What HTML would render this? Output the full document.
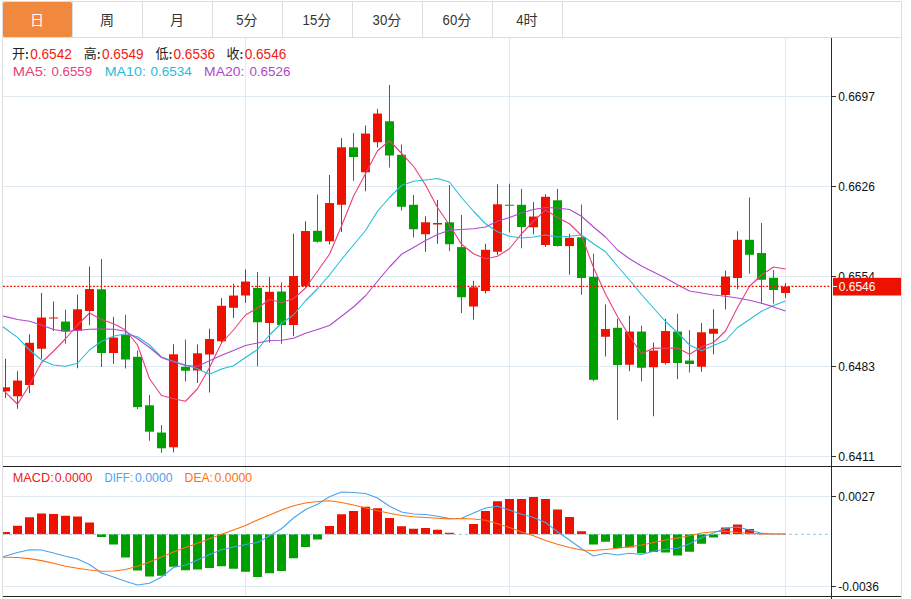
<!DOCTYPE html>
<html><head><meta charset="utf-8"><title>K</title>
<style>html,body{margin:0;padding:0;background:#fff;width:911px;height:599px;overflow:hidden}body{position:relative;font-family:"Liberation Sans",sans-serif}</style>
</head><body>
<svg width="911" height="599" viewBox="0 0 911 599" style="position:absolute;left:0;top:0;display:block">
<rect x="0" y="0" width="911" height="599" fill="#fff"/>
<g shape-rendering="crispEdges">
<rect x="2" y="1" width="900" height="1" fill="#dddddd"/>
<rect x="2" y="1" width="1" height="598" fill="#dddddd"/>
<rect x="901" y="1" width="1" height="598" fill="#dddddd"/>
<rect x="2" y="37" width="900" height="1" fill="#dddddd"/>
</g><rect x="3" y="2" width="69" height="35" rx="1.5" fill="#f0883e"/><g shape-rendering="crispEdges">
<rect x="72" y="2" width="1" height="35" fill="#dddddd"/>
<rect x="142" y="2" width="1" height="35" fill="#dddddd"/>
<rect x="212" y="2" width="1" height="35" fill="#dddddd"/>
<rect x="282" y="2" width="1" height="35" fill="#dddddd"/>
<rect x="352" y="2" width="1" height="35" fill="#dddddd"/>
<rect x="422" y="2" width="1" height="35" fill="#dddddd"/>
<rect x="492" y="2" width="1" height="35" fill="#dddddd"/>
<rect x="562" y="2" width="1" height="35" fill="#dddddd"/>
<rect x="3" y="96" width="828" height="1" fill="#dfe9f1"/>
<rect x="3" y="186" width="828" height="1" fill="#dfe9f1"/>
<rect x="3" y="276" width="828" height="1" fill="#dfe9f1"/>
<rect x="3" y="366" width="828" height="1" fill="#dfe9f1"/>
<rect x="3" y="456" width="828" height="1" fill="#dfe9f1"/>
<rect x="3" y="496" width="828" height="1" fill="#dfe9f1"/>
<rect x="3" y="586" width="828" height="1" fill="#dfe9f1"/>
<rect x="245" y="38" width="1" height="559" fill="#dfe9f1"/>
<rect x="509" y="38" width="1" height="559" fill="#dfe9f1"/>
<rect x="785" y="38" width="1" height="559" fill="#dfe9f1"/>
</g>
<g>
<rect x="5" y="358.75" width="1" height="39.25" fill="#ee1100"/>
<rect x="3" y="387.30" width="7" height="3.95" fill="#ee1100"/>
<rect x="17" y="371.25" width="1" height="37.50" fill="#ee1100"/>
<rect x="13" y="380.55" width="9" height="15.70" fill="#ee1100"/>
<rect x="29" y="334.25" width="1" height="58.75" fill="#ee1100"/>
<rect x="25" y="342.80" width="9" height="42.20" fill="#ee1100"/>
<rect x="41" y="293.00" width="1" height="65.75" fill="#ee1100"/>
<rect x="37" y="317.55" width="9" height="31.20" fill="#ee1100"/>
<rect x="53" y="301.50" width="1" height="29.50" fill="#ee1100"/>
<rect x="49" y="317.50" width="9" height="1.00" fill="#ee1100"/>
<rect x="65" y="309.75" width="1" height="34.00" fill="#00a000"/>
<rect x="61" y="321.55" width="9" height="9.95" fill="#00a000"/>
<rect x="77" y="294.50" width="1" height="73.75" fill="#ee1100"/>
<rect x="73" y="309.30" width="9" height="21.20" fill="#ee1100"/>
<rect x="89" y="266.50" width="1" height="58.50" fill="#ee1100"/>
<rect x="85" y="289.05" width="9" height="21.95" fill="#ee1100"/>
<rect x="101" y="259.00" width="1" height="108.00" fill="#00a000"/>
<rect x="97" y="289.30" width="9" height="63.70" fill="#00a000"/>
<rect x="113" y="316.75" width="1" height="47.00" fill="#ee1100"/>
<rect x="109" y="337.55" width="9" height="15.45" fill="#ee1100"/>
<rect x="125" y="314.75" width="1" height="53.75" fill="#00a000"/>
<rect x="121" y="335.05" width="9" height="24.45" fill="#00a000"/>
<rect x="137" y="350.50" width="1" height="58.50" fill="#00a000"/>
<rect x="133" y="356.80" width="9" height="50.30" fill="#00a000"/>
<rect x="149" y="395.00" width="1" height="45.75" fill="#00a000"/>
<rect x="145" y="405.30" width="9" height="26.40" fill="#00a000"/>
<rect x="161" y="425.00" width="1" height="27.80" fill="#00a000"/>
<rect x="157" y="432.55" width="9" height="15.75" fill="#00a000"/>
<rect x="173" y="344.25" width="1" height="108.05" fill="#ee1100"/>
<rect x="169" y="354.30" width="9" height="93.00" fill="#ee1100"/>
<rect x="185" y="339.50" width="1" height="42.00" fill="#00a000"/>
<rect x="181" y="366.80" width="9" height="3.95" fill="#00a000"/>
<rect x="197" y="344.50" width="1" height="38.50" fill="#ee1100"/>
<rect x="193" y="353.30" width="9" height="17.20" fill="#ee1100"/>
<rect x="209" y="328.75" width="1" height="63.75" fill="#ee1100"/>
<rect x="205" y="339.05" width="9" height="15.45" fill="#ee1100"/>
<rect x="221" y="298.00" width="1" height="45.00" fill="#ee1100"/>
<rect x="217" y="305.80" width="9" height="35.45" fill="#ee1100"/>
<rect x="233" y="283.75" width="1" height="34.25" fill="#ee1100"/>
<rect x="229" y="295.55" width="9" height="12.20" fill="#ee1100"/>
<rect x="245" y="269.50" width="1" height="33.50" fill="#ee1100"/>
<rect x="241" y="281.55" width="9" height="13.95" fill="#ee1100"/>
<rect x="257" y="272.00" width="1" height="94.25" fill="#00a000"/>
<rect x="253" y="287.80" width="9" height="34.45" fill="#00a000"/>
<rect x="269" y="276.75" width="1" height="65.75" fill="#ee1100"/>
<rect x="265" y="291.80" width="9" height="31.20" fill="#ee1100"/>
<rect x="281" y="282.50" width="1" height="61.25" fill="#00a000"/>
<rect x="277" y="291.55" width="9" height="33.45" fill="#00a000"/>
<rect x="293" y="233.75" width="1" height="102.50" fill="#ee1100"/>
<rect x="289" y="276.05" width="9" height="48.95" fill="#ee1100"/>
<rect x="305" y="221.25" width="1" height="66.75" fill="#ee1100"/>
<rect x="301" y="231.05" width="9" height="55.20" fill="#ee1100"/>
<rect x="317" y="194.50" width="1" height="48.00" fill="#00a000"/>
<rect x="313" y="230.80" width="9" height="10.95" fill="#00a000"/>
<rect x="329" y="175.00" width="1" height="69.50" fill="#ee1100"/>
<rect x="325" y="203.05" width="9" height="38.20" fill="#ee1100"/>
<rect x="341" y="138.00" width="1" height="94.00" fill="#ee1100"/>
<rect x="337" y="147.30" width="9" height="57.45" fill="#ee1100"/>
<rect x="353" y="133.00" width="1" height="47.75" fill="#00a000"/>
<rect x="349" y="147.30" width="9" height="9.70" fill="#00a000"/>
<rect x="365" y="125.50" width="1" height="65.75" fill="#ee1100"/>
<rect x="361" y="133.55" width="9" height="38.70" fill="#ee1100"/>
<rect x="377" y="108.75" width="1" height="38.75" fill="#ee1100"/>
<rect x="373" y="113.55" width="9" height="28.70" fill="#ee1100"/>
<rect x="389" y="85.00" width="1" height="82.50" fill="#00a000"/>
<rect x="385" y="121.30" width="9" height="34.20" fill="#00a000"/>
<rect x="401" y="144.50" width="1" height="66.00" fill="#00a000"/>
<rect x="397" y="154.80" width="9" height="51.95" fill="#00a000"/>
<rect x="413" y="195.00" width="1" height="42.50" fill="#00a000"/>
<rect x="409" y="204.80" width="9" height="24.45" fill="#00a000"/>
<rect x="425" y="216.25" width="1" height="35.50" fill="#ee1100"/>
<rect x="421" y="222.30" width="9" height="11.95" fill="#ee1100"/>
<rect x="437" y="200.00" width="1" height="43.75" fill="#ee1100"/>
<rect x="433" y="223.00" width="9" height="1.50" fill="#ee1100"/>
<rect x="449" y="185.00" width="1" height="66.25" fill="#00a000"/>
<rect x="445" y="222.30" width="9" height="21.95" fill="#00a000"/>
<rect x="461" y="215.00" width="1" height="98.00" fill="#00a000"/>
<rect x="457" y="247.10" width="9" height="50.15" fill="#00a000"/>
<rect x="473" y="280.75" width="1" height="38.75" fill="#ee1100"/>
<rect x="469" y="287.30" width="9" height="19.20" fill="#ee1100"/>
<rect x="485" y="243.75" width="1" height="49.75" fill="#ee1100"/>
<rect x="481" y="249.80" width="9" height="41.20" fill="#ee1100"/>
<rect x="497" y="184.25" width="1" height="70.75" fill="#ee1100"/>
<rect x="493" y="204.30" width="9" height="47.45" fill="#ee1100"/>
<rect x="509" y="183.75" width="1" height="48.75" fill="#00a000"/>
<rect x="505" y="204.75" width="9" height="1.00" fill="#00a000"/>
<rect x="521" y="188.75" width="1" height="59.50" fill="#00a000"/>
<rect x="517" y="204.80" width="9" height="22.20" fill="#00a000"/>
<rect x="533" y="202.00" width="1" height="32.25" fill="#ee1100"/>
<rect x="529" y="216.55" width="9" height="10.70" fill="#ee1100"/>
<rect x="545" y="194.25" width="1" height="52.75" fill="#ee1100"/>
<rect x="541" y="196.80" width="9" height="48.20" fill="#ee1100"/>
<rect x="557" y="188.75" width="1" height="57.75" fill="#00a000"/>
<rect x="553" y="200.30" width="9" height="45.70" fill="#00a000"/>
<rect x="569" y="233.75" width="1" height="40.95" fill="#ee1100"/>
<rect x="565" y="237.80" width="9" height="8.30" fill="#ee1100"/>
<rect x="581" y="204.50" width="1" height="90.25" fill="#00a000"/>
<rect x="577" y="237.30" width="9" height="40.70" fill="#00a000"/>
<rect x="593" y="253.75" width="1" height="127.50" fill="#00a000"/>
<rect x="589" y="276.80" width="9" height="102.95" fill="#00a000"/>
<rect x="605" y="304.50" width="1" height="52.00" fill="#ee1100"/>
<rect x="601" y="329.05" width="9" height="7.70" fill="#ee1100"/>
<rect x="617" y="318.75" width="1" height="101.25" fill="#00a000"/>
<rect x="613" y="327.80" width="9" height="37.20" fill="#00a000"/>
<rect x="629" y="315.75" width="1" height="55.50" fill="#ee1100"/>
<rect x="625" y="331.55" width="9" height="33.20" fill="#ee1100"/>
<rect x="641" y="325.75" width="1" height="55.75" fill="#00a000"/>
<rect x="637" y="331.55" width="9" height="36.20" fill="#00a000"/>
<rect x="653" y="342.50" width="1" height="73.75" fill="#ee1100"/>
<rect x="649" y="350.55" width="9" height="16.70" fill="#ee1100"/>
<rect x="665" y="318.75" width="1" height="45.75" fill="#ee1100"/>
<rect x="661" y="331.05" width="9" height="31.95" fill="#ee1100"/>
<rect x="677" y="313.75" width="1" height="65.50" fill="#00a000"/>
<rect x="673" y="331.55" width="9" height="31.45" fill="#00a000"/>
<rect x="689" y="330.00" width="1" height="42.50" fill="#00a000"/>
<rect x="685" y="360.55" width="9" height="3.45" fill="#00a000"/>
<rect x="701" y="323.00" width="1" height="48.75" fill="#ee1100"/>
<rect x="697" y="332.30" width="9" height="34.45" fill="#ee1100"/>
<rect x="713" y="309.25" width="1" height="45.00" fill="#ee1100"/>
<rect x="709" y="328.80" width="9" height="4.95" fill="#ee1100"/>
<rect x="725" y="270.50" width="1" height="39.00" fill="#ee1100"/>
<rect x="721" y="276.55" width="9" height="18.45" fill="#ee1100"/>
<rect x="737" y="231.25" width="1" height="58.00" fill="#ee1100"/>
<rect x="733" y="239.80" width="9" height="38.20" fill="#ee1100"/>
<rect x="749" y="197.50" width="1" height="76.25" fill="#00a000"/>
<rect x="745" y="239.80" width="9" height="14.95" fill="#00a000"/>
<rect x="761" y="223.00" width="1" height="80.75" fill="#00a000"/>
<rect x="757" y="253.05" width="9" height="26.70" fill="#00a000"/>
<rect x="773" y="270.00" width="1" height="33.50" fill="#00a000"/>
<rect x="769" y="277.80" width="9" height="12.20" fill="#00a000"/>
<rect x="785" y="283.00" width="1" height="14.75" fill="#ee1100"/>
<rect x="781" y="286.55" width="9" height="6.45" fill="#ee1100"/>
</g>
<g>
<rect x="3" y="532.00" width="7" height="2.20" fill="#ee1100"/>
<rect x="13" y="525.75" width="9" height="8.45" fill="#ee1100"/>
<rect x="25" y="517.25" width="9" height="16.95" fill="#ee1100"/>
<rect x="37" y="513.50" width="9" height="20.70" fill="#ee1100"/>
<rect x="49" y="514.00" width="9" height="20.20" fill="#ee1100"/>
<rect x="61" y="515.75" width="9" height="18.45" fill="#ee1100"/>
<rect x="73" y="516.50" width="9" height="17.70" fill="#ee1100"/>
<rect x="85" y="522.50" width="9" height="11.70" fill="#ee1100"/>
<rect x="97" y="534.20" width="9" height="2.80" fill="#00a000"/>
<rect x="109" y="534.20" width="9" height="10.30" fill="#00a000"/>
<rect x="121" y="534.20" width="9" height="23.30" fill="#00a000"/>
<rect x="133" y="534.20" width="9" height="36.30" fill="#00a000"/>
<rect x="145" y="534.20" width="9" height="42.30" fill="#00a000"/>
<rect x="157" y="534.20" width="9" height="41.55" fill="#00a000"/>
<rect x="169" y="534.20" width="9" height="32.55" fill="#00a000"/>
<rect x="181" y="534.20" width="9" height="36.05" fill="#00a000"/>
<rect x="193" y="534.20" width="9" height="35.30" fill="#00a000"/>
<rect x="205" y="534.20" width="9" height="33.80" fill="#00a000"/>
<rect x="217" y="534.20" width="9" height="32.05" fill="#00a000"/>
<rect x="229" y="534.20" width="9" height="34.55" fill="#00a000"/>
<rect x="241" y="534.20" width="9" height="37.55" fill="#00a000"/>
<rect x="253" y="534.20" width="9" height="42.80" fill="#00a000"/>
<rect x="265" y="534.20" width="9" height="39.05" fill="#00a000"/>
<rect x="277" y="534.20" width="9" height="36.80" fill="#00a000"/>
<rect x="289" y="534.20" width="9" height="24.05" fill="#00a000"/>
<rect x="301" y="534.20" width="9" height="12.80" fill="#00a000"/>
<rect x="313" y="534.20" width="9" height="5.30" fill="#00a000"/>
<rect x="325" y="526.00" width="9" height="8.20" fill="#ee1100"/>
<rect x="337" y="514.25" width="9" height="19.95" fill="#ee1100"/>
<rect x="349" y="511.00" width="9" height="23.20" fill="#ee1100"/>
<rect x="361" y="506.75" width="9" height="27.45" fill="#ee1100"/>
<rect x="373" y="508.25" width="9" height="25.95" fill="#ee1100"/>
<rect x="385" y="518.00" width="9" height="16.20" fill="#ee1100"/>
<rect x="397" y="526.25" width="9" height="7.95" fill="#ee1100"/>
<rect x="409" y="528.75" width="9" height="5.45" fill="#ee1100"/>
<rect x="421" y="528.00" width="9" height="6.20" fill="#ee1100"/>
<rect x="433" y="529.75" width="9" height="4.45" fill="#ee1100"/>
<rect x="445" y="532.75" width="9" height="1.45" fill="#ee1100"/>
<rect x="469" y="524.00" width="9" height="10.20" fill="#ee1100"/>
<rect x="481" y="511.00" width="9" height="23.20" fill="#ee1100"/>
<rect x="493" y="501.25" width="9" height="32.95" fill="#ee1100"/>
<rect x="505" y="499.00" width="9" height="35.20" fill="#ee1100"/>
<rect x="517" y="499.00" width="9" height="35.20" fill="#ee1100"/>
<rect x="529" y="497.00" width="9" height="37.20" fill="#ee1100"/>
<rect x="541" y="499.00" width="9" height="35.20" fill="#ee1100"/>
<rect x="553" y="509.50" width="9" height="24.70" fill="#ee1100"/>
<rect x="565" y="517.00" width="9" height="17.20" fill="#ee1100"/>
<rect x="577" y="531.25" width="9" height="2.95" fill="#ee1100"/>
<rect x="589" y="534.20" width="9" height="10.30" fill="#00a000"/>
<rect x="601" y="534.20" width="9" height="7.55" fill="#00a000"/>
<rect x="613" y="534.20" width="9" height="13.80" fill="#00a000"/>
<rect x="625" y="534.20" width="9" height="13.30" fill="#00a000"/>
<rect x="637" y="534.20" width="9" height="19.05" fill="#00a000"/>
<rect x="649" y="534.20" width="9" height="17.80" fill="#00a000"/>
<rect x="661" y="534.20" width="9" height="18.30" fill="#00a000"/>
<rect x="673" y="534.20" width="9" height="21.30" fill="#00a000"/>
<rect x="685" y="534.20" width="9" height="17.55" fill="#00a000"/>
<rect x="697" y="534.20" width="9" height="9.55" fill="#00a000"/>
<rect x="709" y="534.20" width="9" height="3.30" fill="#00a000"/>
<rect x="721" y="527.50" width="9" height="6.70" fill="#ee1100"/>
<rect x="733" y="524.50" width="9" height="9.70" fill="#ee1100"/>
<rect x="745" y="529.00" width="9" height="5.20" fill="#ee1100"/>
<rect x="757" y="533.25" width="9" height="0.95" fill="#ee1100"/>
</g>
<line x1="3" y1="534.3" x2="828" y2="534.3" stroke="#84ccf2" stroke-width="1" stroke-dasharray="3 3"/>
<polyline points="3,391.00 5.5,392.30 17.5,404.25 29.5,385.00 41.5,362.50 53.5,351.25 65.5,338.75 77.5,325.00 89.5,313.00 101.5,319.50 113.5,323.75 125.5,330.00 137.5,345.00 149.5,378.75 161.5,395.50 173.5,398.75 185.5,401.25 197.5,388.75 209.5,367.50 221.5,343.00 233.5,330.00 245.5,315.00 257.5,308.00 269.5,299.50 281.5,302.50 293.5,298.75 305.5,288.00 317.5,271.25 329.5,254.25 341.5,226.00 353.5,196.25 365.5,173.75 377.5,150.75 389.5,140.75 401.5,153.25 413.5,166.25 425.5,185.00 437.5,207.50 449.5,225.00 461.5,244.30 473.5,253.75 485.5,258.75 497.5,256.25 509.5,248.75 521.5,233.75 533.5,221.25 545.5,210.00 557.5,217.50 569.5,223.75 581.5,235.50 593.5,267.50 605.5,294.00 617.5,316.50 629.5,336.25 641.5,353.75 653.5,348.00 665.5,348.30 677.5,348.00 689.5,354.25 701.5,347.00 713.5,342.50 725.5,331.00 737.5,307.50 749.5,286.25 761.5,275.00 773.5,267.00 785.5,269.00" fill="none" stroke="#e8407a" stroke-width="1.1" stroke-linejoin="round"/>
<polyline points="3,326.75 5.5,328.70 17.5,337.40 29.5,350.00 41.5,360.00 53.5,365.00 65.5,366.25 77.5,363.25 89.5,350.00 101.5,341.25 113.5,336.25 125.5,333.75 137.5,336.75 149.5,345.00 161.5,357.00 173.5,361.25 185.5,365.00 197.5,368.75 209.5,374.25 221.5,369.00 233.5,365.75 245.5,357.50 257.5,349.50 269.5,335.00 281.5,323.25 293.5,315.00 305.5,300.75 317.5,288.75 329.5,275.00 341.5,259.50 353.5,245.00 365.5,230.50 377.5,211.25 389.5,197.50 401.5,185.50 413.5,181.25 425.5,180.00 437.5,178.50 449.5,182.00 461.5,197.50 473.5,211.25 485.5,223.75 497.5,231.75 509.5,236.25 521.5,238.00 533.5,237.00 545.5,235.00 557.5,237.00 569.5,236.25 581.5,235.00 593.5,243.75 605.5,251.75 617.5,266.25 629.5,280.00 641.5,294.50 653.5,308.00 665.5,321.50 677.5,332.50 689.5,345.00 701.5,350.75 713.5,345.50 725.5,340.50 737.5,327.50 749.5,319.50 761.5,311.25 773.5,305.50 785.5,301.00" fill="none" stroke="#28bcd8" stroke-width="1.1" stroke-linejoin="round"/>
<polyline points="3,316.00 5.5,316.60 17.5,319.50 29.5,321.25 41.5,325.00 53.5,329.50 65.5,331.25 77.5,330.50 89.5,329.25 101.5,329.00 113.5,329.25 125.5,331.25 137.5,338.75 149.5,347.50 161.5,357.50 173.5,362.00 185.5,365.50 197.5,366.25 209.5,360.75 221.5,355.25 233.5,350.50 245.5,345.50 257.5,343.00 269.5,340.50 281.5,340.25 293.5,338.25 305.5,333.25 317.5,329.50 329.5,325.50 341.5,316.25 353.5,307.00 365.5,295.75 377.5,281.25 389.5,267.00 401.5,254.25 413.5,247.50 425.5,240.50 437.5,234.50 449.5,230.30 461.5,229.50 473.5,228.75 485.5,227.00 497.5,221.25 509.5,217.50 521.5,213.00 533.5,209.50 545.5,207.50 557.5,208.00 569.5,209.50 581.5,216.25 593.5,227.00 605.5,237.00 617.5,250.00 629.5,258.75 641.5,266.00 653.5,272.00 665.5,278.00 677.5,284.75 689.5,291.00 701.5,293.00 713.5,295.00 725.5,296.25 737.5,298.00 749.5,300.25 761.5,303.25 773.5,306.90 785.5,310.90" fill="none" stroke="#b048cc" stroke-width="1.1" stroke-linejoin="round"/>
<polyline points="3,556.80 5.5,556.00 17.5,552.50 29.5,549.80 41.5,550.00 53.5,553.00 65.5,556.25 77.5,559.00 89.5,564.50 101.5,573.00 113.5,577.00 125.5,581.25 137.5,585.00 149.5,583.25 161.5,577.00 173.5,567.50 185.5,565.00 197.5,560.00 209.5,554.50 221.5,549.75 233.5,547.00 245.5,544.50 257.5,542.50 269.5,535.75 281.5,528.75 293.5,518.00 305.5,509.50 317.5,504.25 329.5,496.75 341.5,492.00 353.5,492.50 365.5,493.50 377.5,498.00 389.5,506.25 401.5,512.00 413.5,514.00 425.5,514.50 437.5,516.25 449.5,518.50 461.5,518.25 473.5,513.00 485.5,508.00 497.5,506.25 509.5,510.00 521.5,514.25 533.5,517.50 545.5,522.50 557.5,531.75 569.5,540.00 581.5,548.75 593.5,556.00 605.5,553.25 617.5,555.00 629.5,553.25 641.5,554.50 653.5,551.25 665.5,549.25 677.5,548.25 689.5,543.75 701.5,537.50 713.5,533.00 725.5,528.25 737.5,527.00 749.5,530.00 761.5,533.25 773.5,534.00 785.5,534.00" fill="none" stroke="#4aa3ee" stroke-width="1.1" stroke-linejoin="round"/>
<polyline points="3,557.20 5.5,557.20 17.5,557.50 29.5,558.60 41.5,560.60 53.5,563.20 65.5,566.25 77.5,568.25 89.5,570.00 101.5,571.25 113.5,571.00 125.5,569.50 137.5,566.25 149.5,562.00 161.5,557.00 173.5,552.00 185.5,547.50 197.5,543.25 209.5,538.75 221.5,534.25 233.5,530.00 245.5,525.50 257.5,520.00 269.5,515.00 281.5,510.00 293.5,505.75 305.5,503.00 317.5,501.50 329.5,500.75 341.5,502.50 353.5,505.00 365.5,508.00 377.5,510.75 389.5,513.25 401.5,515.50 413.5,516.75 425.5,517.50 437.5,518.25 449.5,518.90 461.5,518.50 473.5,519.00 485.5,520.25 497.5,523.75 509.5,527.50 521.5,532.00 533.5,535.75 545.5,540.50 557.5,544.25 569.5,547.50 581.5,550.00 593.5,550.50 605.5,549.50 617.5,548.25 629.5,546.75 641.5,545.00 653.5,542.50 665.5,540.00 677.5,538.00 689.5,535.75 701.5,533.00 713.5,531.75 725.5,531.25 737.5,532.50 749.5,533.25 761.5,534.00 773.5,534.00 785.5,534.00" fill="none" stroke="#ff7010" stroke-width="1.1" stroke-linejoin="round"/>
<line x1="3" y1="286.4" x2="829.4" y2="286.4" stroke="#ee1100" stroke-width="1.1" stroke-dasharray="1.9 1.7"/>
<g shape-rendering="crispEdges">
<rect x="831" y="38" width="1" height="561" fill="#2a2a2a"/>
<rect x="3" y="466" width="898" height="1" fill="#222"/>
<rect x="3" y="596" width="898" height="1" fill="#222"/>
<rect x="832" y="96" width="4" height="1" fill="#333"/>
<rect x="832" y="186" width="4" height="1" fill="#333"/>
<rect x="832" y="276" width="4" height="1" fill="#333"/>
<rect x="832" y="366" width="4" height="1" fill="#333"/>
<rect x="832" y="456" width="4" height="1" fill="#333"/>
<rect x="832" y="496" width="4" height="1" fill="#333"/>
<rect x="832" y="586" width="4" height="1" fill="#333"/>
</g>
<g font-family='"Liberation Sans", "Noto Sans CJK SC", sans-serif'>
<text x="838.20" y="100.60" font-size="12.4" fill="#111" textLength="36.60" lengthAdjust="spacingAndGlyphs">0.6697</text>
<text x="838.20" y="190.60" font-size="12.4" fill="#111" textLength="36.60" lengthAdjust="spacingAndGlyphs">0.6626</text>
<text x="838.20" y="280.60" font-size="12.4" fill="#111" textLength="36.60" lengthAdjust="spacingAndGlyphs">0.6554</text>
<text x="838.20" y="370.60" font-size="12.4" fill="#111" textLength="36.60" lengthAdjust="spacingAndGlyphs">0.6483</text>
<text x="838.20" y="460.60" font-size="12.4" fill="#111" textLength="36.60" lengthAdjust="spacingAndGlyphs">0.6411</text>
<text x="838.20" y="500.60" font-size="12.4" fill="#111" textLength="36.60" lengthAdjust="spacingAndGlyphs">0.0027</text>
<text x="838.20" y="590.60" font-size="12.4" fill="#111" textLength="40.80" lengthAdjust="spacingAndGlyphs">-0.0036</text>
<rect x="833" y="277.8" width="68" height="17.7" fill="#ee1100"/>
<rect x="833" y="286" width="4" height="1" fill="#fff" shape-rendering="crispEdges"/>
<text x="838.70" y="290.80" font-size="12" fill="#fff" textLength="36.80" lengthAdjust="spacingAndGlyphs">0.6546</text>
<text x="29.90" y="24.70" font-size="14" fill="#fff">日</text>
<text x="99.90" y="24.70" font-size="14" fill="#333">周</text>
<text x="169.90" y="24.70" font-size="14" fill="#333">月</text>
<text x="236.25" y="25.40" font-size="14" fill="#333" textLength="7.30" lengthAdjust="spacingAndGlyphs">5</text><text x="243.55" y="24.70" font-size="14" fill="#333">分</text>
<text x="302.60" y="25.40" font-size="14" fill="#333" textLength="14.60" lengthAdjust="spacingAndGlyphs">15</text><text x="317.20" y="24.70" font-size="14" fill="#333">分</text>
<text x="372.60" y="25.40" font-size="14" fill="#333" textLength="14.60" lengthAdjust="spacingAndGlyphs">30</text><text x="387.20" y="24.70" font-size="14" fill="#333">分</text>
<text x="442.60" y="25.40" font-size="14" fill="#333" textLength="14.60" lengthAdjust="spacingAndGlyphs">60</text><text x="457.20" y="24.70" font-size="14" fill="#333">分</text>
<text x="516.25" y="25.40" font-size="14" fill="#333" textLength="7.30" lengthAdjust="spacingAndGlyphs">4</text><text x="523.55" y="24.70" font-size="14" fill="#333">时</text>
<text x="11.90" y="58.40" font-size="13" fill="#222">开</text>
<rect x="26.10" y="52.2" width="1.7" height="1.8" fill="#222"/><rect x="26.10" y="56.9" width="1.7" height="1.8" fill="#222"/>
<text x="30.20" y="58.50" font-size="13.9" fill="#f02010" textLength="41.60" lengthAdjust="spacingAndGlyphs">0.6542</text>
<text x="83.70" y="58.40" font-size="13" fill="#222">高</text>
<rect x="97.90" y="52.2" width="1.7" height="1.8" fill="#222"/><rect x="97.90" y="56.9" width="1.7" height="1.8" fill="#222"/>
<text x="102.00" y="58.50" font-size="13.9" fill="#f02010" textLength="41.60" lengthAdjust="spacingAndGlyphs">0.6549</text>
<text x="155.50" y="58.40" font-size="13" fill="#222">低</text>
<rect x="169.70" y="52.2" width="1.7" height="1.8" fill="#222"/><rect x="169.70" y="56.9" width="1.7" height="1.8" fill="#222"/>
<text x="173.50" y="58.50" font-size="13.9" fill="#f02010" textLength="41.60" lengthAdjust="spacingAndGlyphs">0.6536</text>
<text x="226.40" y="58.40" font-size="13" fill="#222">收</text>
<rect x="240.60" y="52.2" width="1.7" height="1.8" fill="#222"/><rect x="240.60" y="56.9" width="1.7" height="1.8" fill="#222"/>
<text x="244.70" y="58.50" font-size="13.9" fill="#f02010" textLength="41.60" lengthAdjust="spacingAndGlyphs">0.6546</text>
<text x="12.70" y="76.20" font-size="12.8" fill="#e8407a" textLength="34.20" lengthAdjust="spacingAndGlyphs">MA5:</text>
<text x="51.50" y="76.20" font-size="12.8" fill="#e8407a" textLength="40.60" lengthAdjust="spacingAndGlyphs">0.6559</text>
<text x="104.70" y="76.20" font-size="12.8" fill="#28bcd8" textLength="41.30" lengthAdjust="spacingAndGlyphs">MA10:</text>
<text x="150.50" y="76.20" font-size="12.8" fill="#28bcd8" textLength="41.20" lengthAdjust="spacingAndGlyphs">0.6534</text>
<text x="204.10" y="76.20" font-size="12.8" fill="#b048cc" textLength="40.20" lengthAdjust="spacingAndGlyphs">MA20:</text>
<text x="249.40" y="76.20" font-size="12.8" fill="#b048cc" textLength="41.00" lengthAdjust="spacingAndGlyphs">0.6526</text>
<text x="12.70" y="482.00" font-size="12.5" fill="#f02010" textLength="41.00" lengthAdjust="spacingAndGlyphs">MACD:</text>
<text x="54.80" y="482.00" font-size="12.5" fill="#f02010" textLength="37.60" lengthAdjust="spacingAndGlyphs">0.0000</text>
<text x="104.60" y="482.00" font-size="12.5" fill="#4aa3ee" textLength="28.20" lengthAdjust="spacingAndGlyphs">DIFF:</text>
<text x="135.00" y="482.00" font-size="12.5" fill="#4aa3ee" textLength="37.60" lengthAdjust="spacingAndGlyphs">0.0000</text>
<text x="184.60" y="482.00" font-size="12.5" fill="#ff7010" textLength="28.40" lengthAdjust="spacingAndGlyphs">DEA:</text>
<text x="214.60" y="482.00" font-size="12.5" fill="#ff7010" textLength="37.60" lengthAdjust="spacingAndGlyphs">0.0000</text>
</g>
</svg>
</body></html>
